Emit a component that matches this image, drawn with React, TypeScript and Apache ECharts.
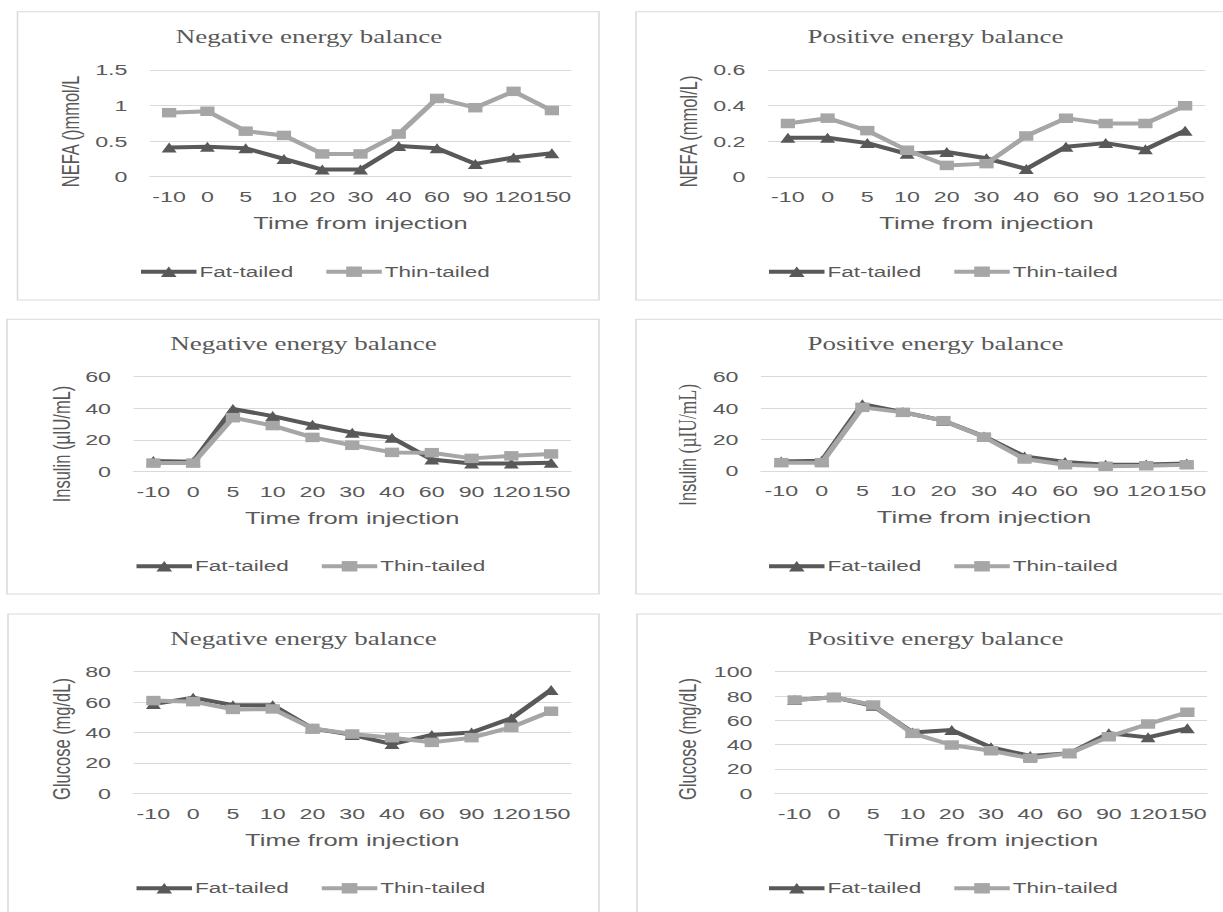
import React, { useEffect, useRef } from 'react';
import * as echarts from 'echarts';

// ---------- data ----------
const categories = ['-10', '0', '5', '10', '20', '30', '40', '60', '90', '120', '150'];
const seriesNames = ['Fat-tailed', 'Thin-tailed'];

const nefaNegFat = [0.41, 0.42, 0.4, 0.25, 0.1, 0.1, 0.43, 0.4, 0.18, 0.27, 0.33];
const nefaNegThin = [0.9, 0.92, 0.64, 0.58, 0.32, 0.32, 0.6, 1.1, 0.97, 1.2, 0.93];
const nefaPosFat = [0.22, 0.22, 0.19, 0.13, 0.14, 0.105, 0.045, 0.17, 0.19, 0.155, 0.26];
const nefaPosThin = [0.3, 0.33, 0.26, 0.15, 0.065, 0.075, 0.23, 0.33, 0.3, 0.3, 0.4];
const insNegFat = [6.5, 6, 39.5, 35, 29.5, 24.5, 21.3, 7.5, 5, 5, 5.5];
const insNegThin = [5.2, 5.2, 34, 29, 21.5, 16.5, 12, 11.8, 8.2, 9.8, 11];
const insPosFat = [6, 6.5, 42.5, 37.5, 32, 22, 9.3, 5.7, 4, 4.2, 4.7];
const insPosThin = [5.3, 5.3, 40.5, 37.3, 32, 21.6, 7.6, 4, 3, 3.4, 4];
const gluNegFat = [58.7, 62.9, 58, 58, 42.7, 38.4, 32.4, 38.4, 40, 49.3, 68];
const gluNegThin = [61, 60.3, 55.2, 55.5, 42.7, 39, 36.6, 33.5, 36.6, 43.4, 54];
const gluPosFat = [76.7, 79, 72, 50, 52, 37.8, 30.7, 32.9, 49.3, 46, 53.4];
const gluPosThin = [76.7, 79, 72.6, 49.3, 39.7, 35, 28.8, 32.9, 46.6, 57, 66.6];

const titleNeg = 'Negative energy balance';
const titlePos = 'Positive energy balance';
const xName = 'Time from injection';

// ---------- layout ----------
const S = 1.5; // horizontal stretch of the whole figure
const W = 815;
const H = 912;
const sx = (v: number) => v / S;

const SANS = 'Liberation Sans, Arial, sans-serif';
const SERIF = 'Liberation Serif, Times New Roman, serif';
const TXT = '#595959';
const GRIDC = '#d9d9d9';
const FATC = '#595959';
const THINC = '#a6a6a6';

type Panel = {
  title: string;
  yName: string;
  yRich?: boolean;
  yMax: number;
  yStep: number;
  fat: number[];
  thin: number[];
  l: number; r: number; t: number; b: number;
  frame: [number, number, number, number];
  titleX: number; titleY: number;
  nameGapY: number; nameShift: number;
  legendLeft: number; legendY: number;
};

const panels: Panel[] = [
  { title: titleNeg, yName: 'NEFA ()mmol/L', yMax: 1.5, yStep: 0.5, fat: nefaNegFat, thin: nefaNegThin,
    l: 150, r: 571, t: 70, b: 176.7, frame: [17.5, 599, 11.7, 300], titleX: 309, titleY: 37,
    nameGapY: 45, nameShift: 8, legendLeft: 138, legendY: 272.7 },
  { title: titlePos, yName: 'NEFA (mmol/L)', yMax: 0.6, yStep: 0.2, fat: nefaPosFat, thin: nefaPosThin,
    l: 768, r: 1205, t: 70, b: 177, frame: [636, 1232, 11.7, 300], titleX: 935.5, titleY: 37,
    nameGapY: 45, nameShift: 8, legendLeft: 766, legendY: 272.7 },
  { title: titleNeg, yName: 'Insulin (µIU/mL)', yMax: 60, yStep: 20, fat: insNegFat, thin: insNegThin,
    l: 133.5, r: 571, t: 376.7, b: 471.3, frame: [7, 599, 319.3, 594], titleX: 303.5, titleY: 344.3,
    nameGapY: 40, nameShift: 20, legendLeft: 133.5, legendY: 567.3 },
  { title: titlePos, yName: '{a|Insulin }{b|(µIU/mL)}', yRich: true, yMax: 60, yStep: 20, fat: insPosFat, thin: insPosThin,
    l: 761, r: 1207, t: 376.7, b: 471, frame: [636, 1232, 319.3, 594], titleX: 935.5, titleY: 344.3,
    nameGapY: 40, nameShift: 21, legendLeft: 766, legendY: 567.3 },
  { title: titleNeg, yName: 'Glucose (mg/dL)', yMax: 80, yStep: 20, fat: gluNegFat, thin: gluNegThin,
    l: 133.5, r: 571, t: 671.7, b: 793.3, frame: [8, 599, 614, 930], titleX: 303.5, titleY: 639,
    nameGapY: 40, nameShift: 6.5, legendLeft: 133.5, legendY: 889.3 },
  { title: titlePos, yName: 'Glucose (mg/dL)', yMax: 100, yStep: 20, fat: gluPosFat, thin: gluPosThin,
    l: 775, r: 1207, t: 671.7, b: 793.3, frame: [637, 1232, 614, 930], titleX: 935.5, titleY: 639,
    nameGapY: 50, nameShift: 6.5, legendLeft: 766, legendY: 889.3 },
];

function buildOption() {
  const title = panels.map((p) => ({
    text: p.title,
    left: sx(p.titleX),
    top: p.titleY,
    textAlign: 'center',
    textVerticalAlign: 'middle',
    padding: 0,
    textStyle: { fontFamily: SERIF, fontSize: 18, fontWeight: 'normal', color: TXT },
  }));

  const grid = panels.map((p) => ({
    left: sx(p.l),
    top: p.t,
    width: sx(p.r - p.l),
    height: p.b - p.t,
    containLabel: false,
    outerBoundsMode: 'none',
  }));

  const xAxis = panels.map((p, i) => ({
    type: 'category',
    gridIndex: i,
    data: categories,
    boundaryGap: true,
    axisTick: { show: false },
    axisLine: { show: true, lineStyle: { color: GRIDC, width: 1 } },
    axisLabel: { interval: 0, margin: 12, color: TXT, fontSize: 15.5, fontFamily: SANS, hideOverlap: false },
    splitLine: { show: false },
    name: xName,
    nameLocation: 'middle',
    nameGap: 38,
    nameMoveOverlap: false,
    nameTextStyle: { color: TXT, fontSize: 17, fontFamily: SANS },
  }));

  const yAxis = panels.map((p, i) => ({
    type: 'value',
    gridIndex: i,
    min: 0,
    max: p.yMax,
    interval: p.yStep,
    axisLine: { show: false },
    axisTick: { show: false },
    axisLabel: { margin: 15, color: TXT, fontSize: 15.5, fontFamily: SANS },
    splitLine: { show: true, lineStyle: { color: GRIDC, width: 1 } },
    name: p.yName,
    nameLocation: 'middle',
    nameGap: p.nameGapY,
    nameMoveOverlap: false,
    nameTextStyle: {
      color: TXT,
      fontSize: 16.5,
      fontFamily: SANS,
      padding: [0, 2 * p.nameShift, 0, 0],
      rich: p.yRich
        ? {
            a: { color: TXT, fontSize: 16.5, fontFamily: SANS },
            b: { color: TXT, fontSize: 17.5, fontFamily: SERIF },
          }
        : undefined,
    },
  }));

  const series: any[] = [];
  panels.forEach((p, i) => {
    series.push({
      type: 'line',
      name: seriesNames[0],
      xAxisIndex: i,
      yAxisIndex: i,
      data: p.fat,
      symbol: 'triangle',
      symbolSize: 10,
      color: FATC,
      lineStyle: { color: FATC, width: 4 },
      itemStyle: { color: FATC },
      z: 2,
    });
    series.push({
      type: 'line',
      name: seriesNames[1],
      xAxisIndex: i,
      yAxisIndex: i,
      data: p.thin,
      symbol: 'rect',
      symbolSize: 9.5,
      color: THINC,
      lineStyle: { color: THINC, width: 4 },
      itemStyle: { color: THINC },
      z: 3,
    });
  });

  const legend = panels.map((p) => ({
    left: sx(p.legendLeft),
    top: p.legendY - 8.5,
    orient: 'horizontal',
    padding: 0,
    itemWidth: 37,
    itemHeight: 13,
    itemGap: 20,
    data: seriesNames,
    selectedMode: false,
    lineStyle: { width: 4 },
    textStyle: { color: TXT, fontSize: 15, fontFamily: SANS, padding: [0, 0, 0, -3] },
  }));

  const graphic = panels.map((p) => ({
    type: 'rect',
    silent: true,
    z: -1,
    shape: {
      x: sx(p.frame[0]),
      y: p.frame[2],
      width: sx(p.frame[1] - p.frame[0]),
      height: p.frame[3] - p.frame[2],
    },
    style: { fill: 'none', stroke: GRIDC, lineWidth: 1 },
  }));

  return {
    animation: false,
    backgroundColor: '#ffffff',
    title,
    grid,
    xAxis,
    yAxis,
    legend,
    series,
    graphic,
  };
}

export default function App() {
  const ref = useRef<HTMLDivElement>(null);
  useEffect(() => {
    if (!ref.current) return;
    const chart = echarts.init(ref.current, null, { renderer: 'svg' });
    chart.setOption(buildOption() as any);
    return () => chart.dispose();
  }, []);
  return (
    <div
      style={{
        position: 'absolute',
        left: 0,
        top: 0,
        width: W,
        height: H,
        transform: `scaleX(${S})`,
        transformOrigin: '0 0',
        background: '#ffffff',
      }}
    >
      <div ref={ref} style={{ width: W, height: H }} />
    </div>
  );
}
